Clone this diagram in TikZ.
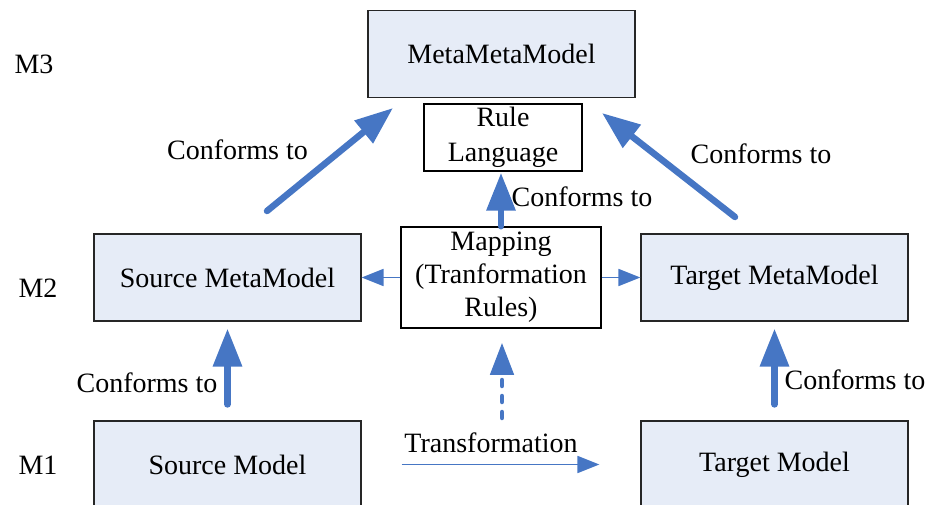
\documentclass[tikz,border=0pt]{standalone}
\usepackage{fontspec}
\setmainfont{Liberation Serif}
\usetikzlibrary{arrows.meta}
\definecolor{boxfill}{RGB}{230,236,247}
\definecolor{arrowblue}{RGB}{70,118,196}

\begin{document}
\begin{tikzpicture}[x=1pt,y=-1pt,
    font=\fontsize{28}{34}\selectfont,
    model/.style={draw=black!85,line width=1.2pt,fill=boxfill,minimum width=267pt,minimum height=87pt,inner sep=0pt},
    rulebox/.style={draw=black,line width=1.5pt,fill=white,align=center,inner sep=0pt},
    conforms/.style={draw=arrowblue,line width=6.5pt,line cap=round,-{Triangle[length=38pt,width=28pt]}},
    thinarr/.style={draw=arrowblue,line width=1.8pt,-{Triangle[length=22pt,width=17pt]}},
    dotarr/.style={draw=arrowblue,line width=4.5pt,line cap=round,dash pattern=on 6pt off 10pt,-{Triangle[length=32pt,width=23pt]}}]
    \useasboundingbox (0,0) rectangle (930,505);
    \clip (0,0) rectangle (930,505);
    \node[model] (mmm) at (501.5,54) {MetaMetaModel};
    \node[rulebox,minimum width=158pt,minimum height=67pt,font=\fontsize{28}{35}\selectfont] (rl) at (503,137.5) {Rule\\Language};
    \node[rulebox,minimum width=200pt,minimum height=101pt,font=\fontsize{28}{33}\selectfont] (map) at (501,277.5) {Mapping\\(Tranformation\\Rules)};
    \node[model] (smm) at (227.5,277.5) {Source MetaModel};
    \node[model] (tmm) at (774.5,277.5) {Target MetaModel};
    \node[model] (sm) at (227.5,464.5) {Source Model};
    \node[model] (tm) at (774.5,464.5) {Target Model};
    \node (m3) at (34,64) {M3};
    \node (m2) at (38,288) {M2};
    \node (m1) at (38,465) {M1};
    \node (c1) at (237.5,150) {Conforms to};
    \node (c2) at (761,154) {Conforms to};
    \node (c3) at (582,197) {Conforms to};
    \node (c4) at (147,383) {Conforms to};
    \node (c5) at (855,380) {Conforms to};
    \node (tr) at (491,443) {Transformation};
    \coordinate (ls) at (267,211);
    \coordinate (lt) at (393,108);
    \coordinate (rs) at (735,217);
    \coordinate (rt) at (602,113);
    \coordinate (ts) at (502,418);
    \draw[conforms] (ls) -- (lt);
    \draw[conforms] (rs) -- (rt);
    \draw[conforms,shorten <=16pt,shorten >=7pt] (sm) -- (smm);
    \draw[conforms,shorten <=16pt,shorten >=7pt] (tm) -- (tmm);
    \draw[conforms,shorten >=1pt] (map.north) -- (map.north |- rl.south);
    \draw[thinarr] (map) -- (smm);
    \draw[thinarr] (map) -- (tmm);
    \draw[thinarr,shorten <=40pt,shorten >=41pt] (sm) -- (tm);
    \draw[dotarr,shorten >=14pt] (ts) -- (map.south -| ts);
\end{tikzpicture}
\end{document}
